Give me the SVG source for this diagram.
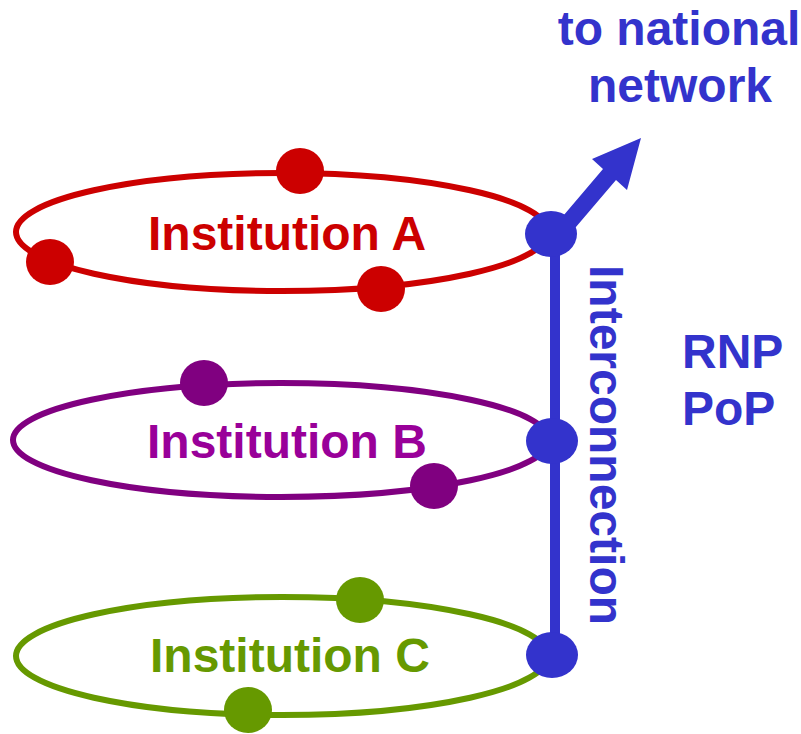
<svg xmlns="http://www.w3.org/2000/svg" width="801" height="734" viewBox="0 0 801 734">
<style>
.lbl{font-family:"Liberation Sans",Arial,sans-serif;font-weight:bold;font-size:48px}
.ring{fill:none;stroke-width:6}
.blue{fill:#3333CC}
</style>
<rect width="801" height="734" fill="#ffffff"/>
<g id="connectors">
<line x1="555" y1="234" x2="555" y2="655" stroke="#3333CC" stroke-width="10"/>
<polygon class="blue" points="552,229 603,169 592,159 641,138 627,190 616,180 564,241"/>
</g>
<g id="institution-a">
<ellipse class="ring" cx="282" cy="232" rx="266" ry="59" stroke="#CC0000"/>
<ellipse cx="300" cy="171" rx="24" ry="23" fill="#CC0000"/>
<ellipse cx="50" cy="262" rx="24" ry="23" fill="#CC0000"/>
<ellipse cx="381" cy="289" rx="24" ry="23" fill="#CC0000"/>
<text class="lbl" x="148" y="250" fill="#CC0000">Institution A</text>
</g>
<g id="institution-b">
<ellipse class="ring" cx="281" cy="440" rx="268" ry="57" stroke="#800080"/>
<ellipse cx="204" cy="383" rx="24" ry="23" fill="#800080"/>
<ellipse cx="434" cy="486" rx="24" ry="23" fill="#800080"/>
<text class="lbl" x="147" y="458" fill="#990099">Institution B</text>
</g>
<g id="institution-c">
<ellipse class="ring" cx="282" cy="656" rx="266" ry="59" stroke="#669900"/>
<ellipse cx="360" cy="600" rx="24" ry="23" fill="#669900"/>
<ellipse cx="248" cy="710" rx="24" ry="23" fill="#669900"/>
<text class="lbl" x="150" y="672" fill="#669900">Institution C</text>
</g>
<g id="pop-nodes">
<ellipse class="blue" cx="551" cy="234" rx="26" ry="23"/>
<ellipse class="blue" cx="552" cy="441" rx="26" ry="23"/>
<ellipse class="blue" cx="552" cy="655" rx="26" ry="23"/>
</g>
<g id="labels">
<text class="lbl" fill="#3333CC" text-anchor="middle"><tspan x="679" y="45">to national</tspan><tspan x="680" y="102">network</tspan></text>
<text class="lbl" fill="#3333CC" transform="translate(590,265) rotate(90)">Interconnection</text>
<text class="lbl" fill="#3333CC"><tspan x="682" y="368">RNP</tspan><tspan x="682" y="425">PoP</tspan></text>
</g>
</svg>
